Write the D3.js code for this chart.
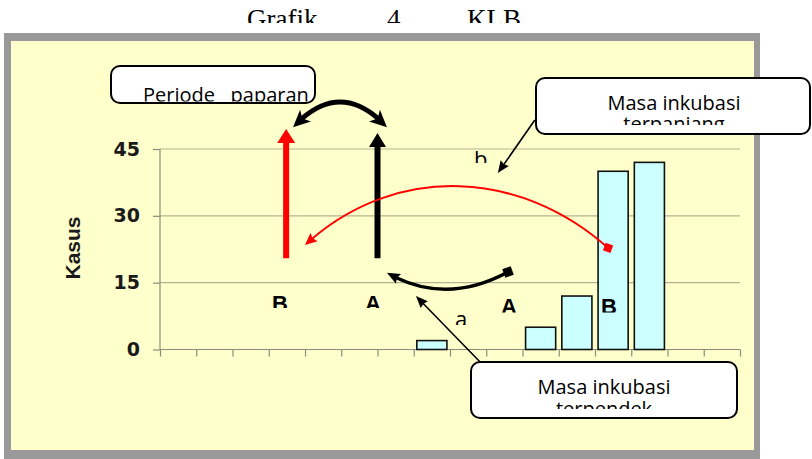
<!DOCTYPE html>
<html><head><meta charset="utf-8">
<script src="https://cdn.jsdelivr.net/npm/d3@7"></script>
<style>
html,body{margin:0;padding:0;background:#fff;}
svg{display:block;}
text{white-space:pre;}
</style></head><body>
<svg id="c" width="812" height="459"></svg>
<script>
// ---------- data ----------
const categories = ["1","2","3","4","5","6","7","8","9","10","11","12","13","14","15","16"];
const cases = [0,0,0,0,0,0,0,2,0,0,5,12,40,42,0,0];
const yTicks = [0,15,30,45];
const yLabel = "Kasus";
const titleParts = ["Grafik","4","KLB"];
const periodeText = ["Periode   paparan"];
const terpanjangText = ["Masa inkubasi","terpanjang"];
const terpendekText = ["Masa inkubasi","terpendek"];
const phaseLetters = ["B","A","A","B"];
const smallLetters = ["a","b"];

// ---------- layout ----------
const svg = d3.select("#c");
const defs = svg.append("defs");
const plot = {left:160, right:740, top:149, bottom:349.5};

const x = d3.scaleBand().domain(categories).range([plot.left, plot.right]).paddingInner(0).paddingOuter(0);
const xu = d3.scaleLinear().domain([0, categories.length]).range([plot.left, plot.right]); // category units
const y = d3.scaleLinear().domain([0,45]).range([plot.bottom, plot.top]);

let clipId = 0;
function clipRect(x0,y0,w,h){
  const id = "cl"+(clipId++);
  defs.append("clipPath").attr("id",id).append("rect").attr("x",x0).attr("y",y0).attr("width",w).attr("height",h);
  return `url(#${id})`;
}

// title (clipped at bottom)
const titleG = svg.append("g").attr("clip-path", clipRect(0,0,812,23))
  .style("font-family","'Liberation Serif','Times New Roman',serif").style("font-size","27px").attr("fill","#000");
const titleX = [247,387,467];
titleParts.forEach((t,i)=> titleG.append("text").attr("x",titleX[i]).attr("y",28).text(t));

// frame
svg.append("rect").attr("x",4).attr("y",33).attr("width",756).attr("height",430).attr("fill","#999");
svg.append("rect").attr("x",11).attr("y",41).attr("width",743).attr("height",409).attr("fill","#ffffcc");

// grid
svg.append("g").selectAll("line").data(yTicks.filter(d=>d>0)).join("line")
  .attr("x1",plot.left).attr("x2",plot.right).attr("y1",d=>y(d)).attr("y2",d=>y(d))
  .attr("stroke","#b4b292").attr("stroke-width",1.2);

// y axis
const yAxis = d3.axisLeft(y).tickValues(yTicks).tickSize(7).tickPadding(13);
const yg = svg.append("g").attr("transform",`translate(${plot.left},0)`).call(yAxis);
yg.select(".domain").attr("stroke","#8c8c7c").attr("stroke-width",1.2).attr("d",`M0,${y(0)}V${y(45)}`);
yg.selectAll(".tick line").attr("stroke","#8c8c7c").attr("stroke-width",1.2);
yg.selectAll(".tick text").attr("fill","#1a1a1a").style("font-family","'DejaVu Sans',sans-serif")
  .style("font-weight","bold").style("font-size","19px");

// x axis: ticks at category boundaries
const xg = svg.append("g").attr("transform",`translate(0,${y(0)})`)
  .call(d3.axisBottom(xu).tickValues(d3.range(0,categories.length+1)).tickSize(7).tickFormat(""));
xg.select(".domain").attr("stroke","#8c8c7c").attr("stroke-width",1.2).attr("d",`M${plot.left},0H${plot.right}`);
xg.selectAll(".tick line").attr("stroke","#8c8c7c").attr("stroke-width",1.2);

// y label
svg.append("text").attr("transform",`translate(80,248) rotate(-90)`).attr("text-anchor","middle")
  .style("font-family","'Liberation Sans',Arial,sans-serif").style("font-weight","bold").style("font-size","21px")
  .attr("fill","#1a1a1a").text(yLabel);

// bars
const bw = x.bandwidth()*0.83;
svg.append("g").selectAll("rect").data(categories.map((c,i)=>({c,v:cases[i]})).filter(d=>d.v>0)).join("rect")
  .attr("x",d=>x(d.c)+(x.bandwidth()-bw)/2).attr("width",bw)
  .attr("y",d=>y(d.v)).attr("height",d=>y(0)-y(d.v))
  .attr("fill","#ccffff").attr("stroke","#111").attr("stroke-width",1.6);

// ---------- annotations ----------
const ann = svg.append("g");
function arrow(d, o){
  const p = ann.append("path").attr("d",d).attr("fill","none").attr("stroke",o.color).attr("stroke-width",o.width);
  const node = p.node(), L = node.getTotalLength();
  const cut = o.headLen*(1-(o.notch||0))*0.9;
  const s = o.start?cut:0, e = o.end?cut:0;
  p.attr("stroke-dasharray", `0,${s},${L-s-e},${L+20}`);
  function head(at, back){
    const tip=node.getPointAtLength(at), b=node.getPointAtLength(back);
    const dx=tip.x-b.x, dy=tip.y-b.y, len=Math.hypot(dx,dy), ux=dx/len, uy=dy/len, nx=-uy, ny=ux;
    const bx=tip.x-ux*o.headLen, by=tip.y-uy*o.headLen, n=o.headLen*(1-(o.notch||0));
    ann.append("path").attr("fill",o.color)
      .attr("d",`M${tip.x},${tip.y}L${bx+nx*o.headW/2},${by+ny*o.headW/2}L${tip.x-ux*n},${tip.y-uy*n}L${bx-nx*o.headW/2},${by-ny*o.headW/2}Z`);
  }
  if(o.end) head(L, L-o.headLen);
  if(o.start) head(0, o.headLen);
  return node;
}
function square(px,py,size,color,angle){
  ann.append("rect").attr("x",-size/2).attr("y",-size/2).attr("width",size).attr("height",size)
    .attr("fill",color).attr("transform",`translate(${px},${py}) rotate(${angle})`);
}
const P = (u,v)=>[xu(u), y(v)];
const pt = (u,v)=>P(u,v).join(",");

// vertical exposure arrows
arrow(`M${pt(3.48,20.5)}L${pt(3.48,49.5)}`, {color:"#ff0000",width:6,headLen:14,headW:18,end:true,notch:0});
arrow(`M${pt(6.0,20.5)}L${pt(6.0,48.6)}`, {color:"#000",width:6,headLen:14,headW:17,end:true,notch:0});

// double arrow on top
arrow(`M${pt(3.67,49.9)}Q${pt(4.97,61.2)} ${pt(6.26,49.9)}`, {color:"#000",width:5,headLen:17,headW:16,start:true,end:true,notch:0.25});

// red long curve
const redStart = P(12.36,22.8);
arrow(`M${redStart}C${pt(9.85,40.96)} ${pt(6.4,41.4)} ${pt(4.0,23.45)}`, {color:"#ff0000",width:2,headLen:12,headW:11,end:true,notch:0.15});
square(redStart[0],redStart[1],8,"#ff0000",20);

// black bottom curve
const blkStart = P(9.6,17.4);
arrow(`M${blkStart}Q${pt(7.86,9.76)} ${pt(6.26,17.2)}`, {color:"#000",width:3.5,headLen:13,headW:11,end:true,notch:0.15});
square(blkStart[0],blkStart[1],9,"#000",-20);

// thin pointer arrows
arrow(`M${pt(8.83,-2.8)}L${pt(7.06,12.0)}`, {color:"#000",width:1.6,headLen:12,headW:10,end:true,notch:0.1});
arrow(`M${pt(10.34,51.5)}L${pt(9.32,39.6)}`, {color:"#000",width:1.6,headLen:12,headW:10,end:true,notch:0.1});

// phase letters (clipped)
const letterPos = [[280,311,308],[373,311,308],[509,314,312.5],[609,314,312.5]];
phaseLetters.forEach((t,i)=>{
  const [lx,ly,cb]=letterPos[i];
  ann.append("g").attr("clip-path",clipRect(lx-15,ly-30,30,cb-(ly-30)))
    .append("text").attr("x",lx).attr("y",ly).attr("text-anchor","middle")
    .style("font-family","'Liberation Sans',Arial,sans-serif").style("font-weight","bold").style("font-size","22px")
    .attr("fill","#000").text(t);
});
const smallPos = [[455,327,325],[474,167,163]];
smallLetters.forEach((t,i)=>{
  const [lx,ly,cb]=smallPos[i];
  ann.append("g").attr("clip-path",clipRect(lx-5,ly-30,30,cb-(ly-30)))
    .append("text").attr("x",lx).attr("y",ly)
    .style("font-family","'Open Sans',sans-serif").style("font-size","22px").attr("fill","#000").text(t);
});

// callout boxes
function callout(bx,by,w,h,lines,anchor,tx,baselines,clipBottom){
  ann.append("rect").attr("x",bx).attr("y",by).attr("width",w).attr("height",h).attr("rx",9)
    .attr("fill","#fff").attr("stroke","#000").attr("stroke-width",2);
  const g = ann.append("g").attr("clip-path",clipRect(bx,by,w,clipBottom-by))
    .style("font-family","'Open Sans',sans-serif").style("font-size","20px").attr("fill","#000");
  lines.forEach((l,i)=> g.append("text").attr("x",tx).attr("y",baselines[i]).attr("text-anchor",anchor).text(l));
}
callout(111,66,204,37,periodeText,"start",143,[102],101.5);
callout(536,78,274,56,terpanjangText,"middle",674,[110,131],125);
callout(471,362,266,56,terpendekText,"middle",604,[394,416],409);
</script>
</body></html>
